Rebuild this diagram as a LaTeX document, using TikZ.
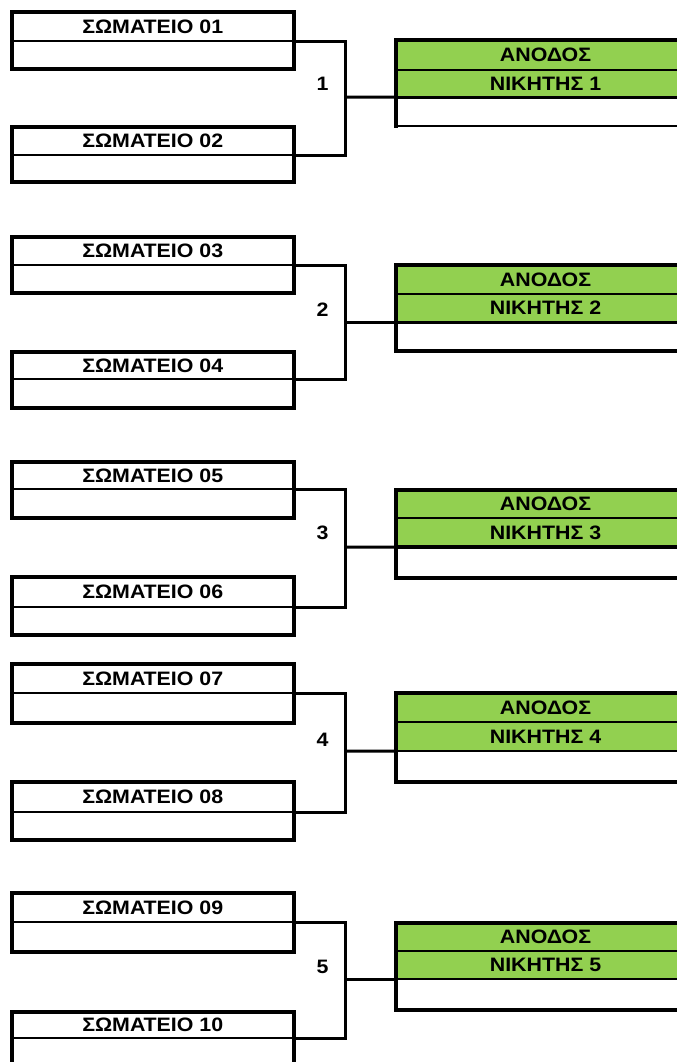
\documentclass[tikz,border=0pt]{standalone}
\usepackage{fontspec}
\setmainfont{Liberation Sans}[FakeStretch=1.1]
\definecolor{lgreen}{HTML}{92D050}
\tikzset{
  cell/.style={draw, line width=1.6bp, inner sep=0pt, outer sep=0pt, anchor=north west,
    font=\bfseries\fontsize{19.5}{22}\selectfont},
  teamcell/.style={cell, minimum width=282.5bp},
  wincell/.style={cell, minimum width=300bp, fill=lgreen},
  emptycell/.style={cell, minimum width=300bp, fill=white},
  thickframe/.style={line width=4bp, line cap=rect},
  conn/.style={line width=3bp},
  lbl/.style={font=\bfseries\fontsize{19.5}{22}\selectfont, inner sep=0pt}
}
\begin{document}
\begin{tikzpicture}[x=1bp,y=-1bp]
\useasboundingbox (0,0) rectangle (677,1062);
\clip (0,0) rectangle (677,1062);
\foreach \g/\na/\nb/\at/\ad/\ab/\bt/\bd/\bb/\gt/\gd/\gg/\gw/\ly/\dw/\bw in {
1/01/02/12/41/69/127/155/182/40/70/97/126/84/3/1.6,
2/03/04/237/265/293/352/379/408/265/294/322/351/310/3/4,
3/05/06/462/489/518/577/607/635/490/518/547/578/533/3.5/4,
4/07/08/664/693/723/782/812/840/693/722/751/782/740/1.6/4,
5/09/10/893/922/952/1012/1038/1068/923/951/979/1010/967/1.6/4}{
  % teams
  \node[teamcell, minimum height={(\ad-\at)*1bp}] (t\na h) at (11.5,\at) {ΣΩΜΑΤΕΙΟ \na};
  \node[teamcell, minimum height={(\ab-\ad)*1bp}] (t\na e) at (11.5,\ad) {};
  \draw[thickframe] (t\na h.north west) rectangle (t\na e.south east);
  \node[teamcell, minimum height={(\bd-\bt)*1bp}] (t\nb h) at (11.5,\bt) {ΣΩΜΑΤΕΙΟ \nb};
  \node[teamcell, minimum height={(\bb-\bd)*1bp}] (t\nb e) at (11.5,\bd) {};
  \draw[thickframe] (t\nb h.north west) rectangle (t\nb e.south east);
  % winner box
  \node[wincell, minimum height={(\gd-\gt)*1bp}] (a\g) at (395.5,\gt) {ΑΝΟΔΟΣ};
  \node[wincell, minimum height={(\gg-\gd)*1bp}] (w\g) at (395.5,\gd) {ΝΙΚΗΤΗΣ \g};
  \node[emptycell, minimum height={(\gw-\gg)*1bp}] (e\g) at (395.5,\gg) {};
  \draw[line width=\dw bp] (w\g.south west) -- (w\g.south east);
  \draw[line width=\bw bp] (e\g.south west) -- (e\g.south east);
  \draw[thickframe] (e\g.south west) -- (a\g.north west) -- (a\g.north east);
  % connectors
  \coordinate (j\g) at (345,\gg);
  \draw[conn] (t\na h.south east) -| (j\g) |- (t\nb h.south east);
  \draw[conn] (j\g) -- (w\g.south west);
  \node[lbl] (l\g) at (322.5,\ly) {\g};
}
\end{tikzpicture}
\end{document}
